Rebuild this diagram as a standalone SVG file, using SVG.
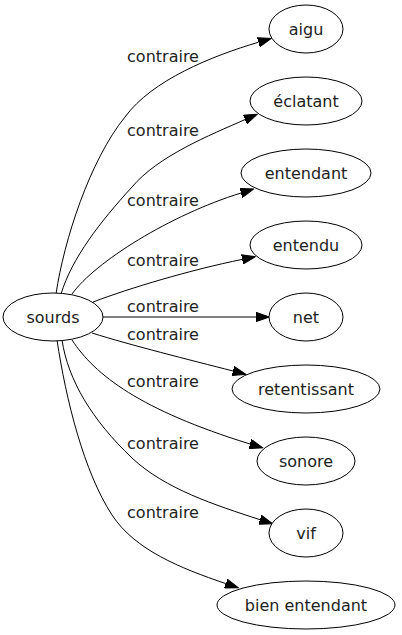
<svg xmlns="http://www.w3.org/2000/svg" width="402" height="635" viewBox="0 0 402 635">
<style>
.node ellipse{fill:#fff;stroke:#000;stroke-width:1}
.node text{font-family:"DejaVu Sans",sans-serif;font-size:16px;fill:#222;text-anchor:middle}
.edges path{fill:none;stroke:#000;stroke-width:1;marker-end:url(#arr)}
.edges text{font-family:"DejaVu Sans",sans-serif;font-size:16px;fill:#222;text-anchor:middle}
</style>
<defs>
<marker id="arr" markerUnits="userSpaceOnUse" markerWidth="14" markerHeight="10" refX="0" refY="4.7" orient="auto" viewBox="0 0 14 9.4">
<path d="M0,0 L13.3,4.7 L0,9.4 z" fill="#000" stroke="#000" stroke-width="1"/>
</marker>
</defs>
<rect width="402" height="635" fill="#fff"/>
<g id="edges" class="edges">
<path d="M56,294 C64,240 90,160 125,117 C152,80 212,56 258.5,42.2"/>
<path d="M61,294 C72,258 100,222 132,187 C158,156 210,135 245,119.6"/>
<path d="M72,294 C95,262 170,215 241,193"/>
<path d="M93,302 C130,288 190,270 242.2,259.4"/>
<path d="M103,317 L256,317"/>
<path d="M92,333 C130,345 190,360 233,371"/>
<path d="M72,340 C95,375 140,410 250,444"/>
<path d="M62,340 C68,380 92,420 132,458 C165,489 215,505 260,519.7"/>
<path d="M57,340 C66,400 84,472 112,515 C135,550 180,568 225.8,583.6"/>
<text x="163" y="62">contraire</text>
<text x="163" y="136">contraire</text>
<text x="163" y="206">contraire</text>
<text x="163" y="266">contraire</text>
<text x="163" y="312">contraire</text>
<text x="163" y="340">contraire</text>
<text x="163" y="387">contraire</text>
<text x="163" y="449">contraire</text>
<text x="163" y="518">contraire</text>
</g>
<g id="sourds" class="node"><ellipse cx="53" cy="317" rx="50" ry="24"/><text x="53" y="322.5">sourds</text></g>
<g id="aigu" class="node"><ellipse cx="306" cy="29" rx="37" ry="24"/><text x="306" y="34.5">aigu</text></g>
<g id="eclatant" class="node"><ellipse cx="306" cy="101" rx="56" ry="24"/><text x="306" y="106.5">éclatant</text></g>
<g id="entendant" class="node"><ellipse cx="306" cy="173" rx="65" ry="24"/><text x="306" y="178.5">entendant</text></g>
<g id="entendu" class="node"><ellipse cx="306" cy="245" rx="56" ry="24"/><text x="306" y="250.5">entendu</text></g>
<g id="net" class="node"><ellipse cx="306" cy="317" rx="37" ry="24"/><text x="306" y="322.5">net</text></g>
<g id="retentissant" class="node"><ellipse cx="306" cy="389" rx="74" ry="24"/><text x="306" y="394.5">retentissant</text></g>
<g id="sonore" class="node"><ellipse cx="306" cy="461" rx="49" ry="24"/><text x="306" y="466.5">sonore</text></g>
<g id="vif" class="node"><ellipse cx="306" cy="533" rx="37" ry="24"/><text x="306" y="538.5">vif</text></g>
<g id="bien_entendant" class="node"><ellipse cx="306" cy="605" rx="89" ry="24"/><text x="306" y="610.5">bien entendant</text></g>
</svg>
